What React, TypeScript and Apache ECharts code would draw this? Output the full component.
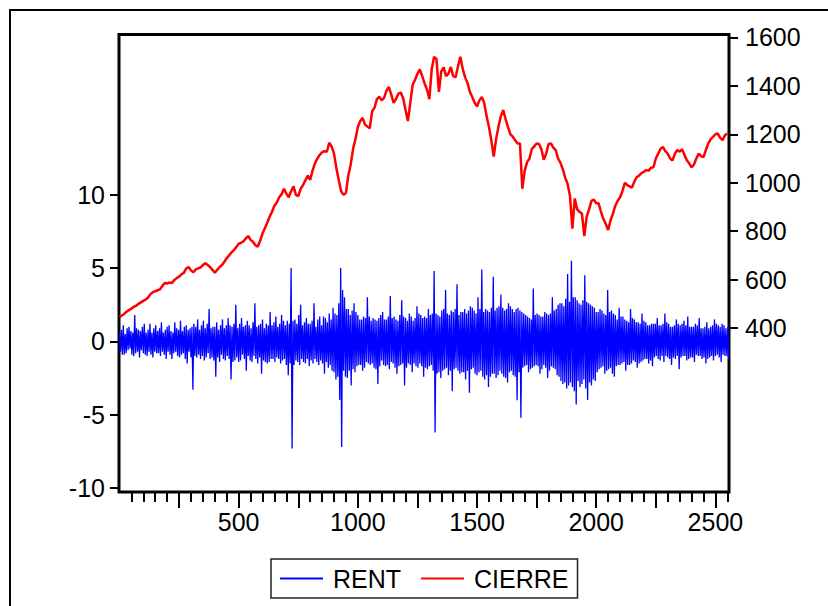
import React, { useEffect, useRef } from "react";
import * as echarts from "echarts";

// observation spacing of the sampled series
const RENT_STEP = 4;
const CIERRE_STEP = 10;

// RENT (left axis), one value every RENT_STEP observations starting at obs 0
const rentValues = [
  0.6, -0.7, 0.8, -0.9, 1.1, -0.9, 0.5, -0.8, 0.9, -0.6, 1.0, -0.5, 0.7, -0.9, 0.6, -1.0, 1.8, -0.8, 0.9, -0.7,
  0.8, -1.1, 0.7, -0.6, 1.0, -0.8, 1.2, -0.9, 0.6, -1.0, 0.8, -0.7, 1.2, -0.9, 0.6, -1.1, 0.9, -0.7, 1.1, -0.8,
  0.7, -0.8, 0.9, -1.0, 1.3, -0.7, 0.6, -0.9, 0.8, -1.2, 1.0, -0.7, 1.1, -0.9, 0.7, -1.2, 0.6, -0.8, 1.3, -0.7,
  0.9, -1.0, 0.8, -1.1, 1.4, -0.9, 0.7, -0.8, 1.0, -1.2, 1.1, -1.5, 0.8, -0.7, 0.9, -1.1, 1.0, -3.3, 1.2, -1.0,
  1.0, -1.1, 1.5, -0.9, 0.8, -1.2, 1.1, -1.0, 1.4, -1.3, 0.9, -1.1, 1.2, -0.8, 2.2, -1.2, 0.9, -1.1, 1.0, -1.3,
  1.0, -2.4, 1.3, -1.1, 0.8, -1.4, 1.1, -0.9, 1.5, -1.2, 0.9, -1.3, 1.1, -1.0, 1.6, -1.2, 1.1, -2.6, 1.0, -1.4,
  1.2, -1.3, 2.5, -1.1, 0.9, -1.4, 1.2, -1.3, 1.6, -0.9, 1.0, -1.2, 1.1, -2.0, 1.4, -1.0, 1.1, -1.3, 0.9, -1.4,
  1.3, -1.0, 2.6, -1.2, 1.0, -1.5, 1.1, -1.1, 1.2, -2.2, 1.5, -1.3, 0.9, -1.4, 1.2, -1.5, 1.1, -1.4, 2.0, -1.2,
  1.1, -1.2, 1.3, -1.4, 1.7, -1.1, 1.0, -1.2, 1.2, -1.5, 1.8, -1.3, 1.4, -1.2, 1.1, -1.6, 1.4, -2.3, 1.2, -1.5,
  5.0, -7.3, 1.4, -1.6, 1.5, -1.3, 1.2, -1.4, 1.8, -1.6, 2.5, -1.2, 1.1, -1.4, 1.3, -1.5, 1.6, -1.2, 1.2, -1.7,
  1.2, -1.3, 1.4, -1.5, 2.6, -1.2, 1.0, -1.4, 1.5, -1.6, 1.7, -1.3, 1.1, -1.5, 1.7, -2.2, 1.6, -1.4, 1.3, -1.8,
  1.9, -1.6, 1.5, -2.0, 2.3, -2.1, 1.9, -2.6, 1.8, -2.4, 2.6, -4.0, 5.0, -7.2, 3.5, -2.0, 3.0, -2.4, 2.2, -2.5,
  2.2, -2.0, 1.8, -3.0, 2.1, -1.9, 2.6, -2.1, 2.0, -1.7, 1.8, -1.6, 1.5, -1.6, 1.5, -2.0, 1.7, -1.8, 1.6, -1.4,
  3.0, -1.5, 1.7, -1.6, 1.4, -1.5, 1.6, -1.8, 1.5, -1.9, 1.4, -2.9, 1.6, -1.7, 1.8, -1.3, 2.0, -1.6, 1.5, -1.7,
  1.5, -1.6, 1.7, -1.9, 3.1, -1.4, 1.6, -1.5, 1.7, -1.8, 1.5, -2.2, 1.4, -1.7, 1.8, -1.6, 2.8, -1.5, 1.7, -3.0,
  1.6, -1.8, 1.4, -1.5, 1.9, -1.6, 1.7, -2.1, 1.4, -1.5, 1.6, -1.7, 2.4, -1.8, 1.9, -1.5, 1.8, -1.7, 1.6, -2.4,
  1.7, -1.8, 1.6, -1.9, 2.2, -1.7, 1.8, -1.6, 1.9, -2.0, 4.8, -6.2, 1.9, -2.2, 1.8, -2.1, 1.7, -2.5, 2.1, -2.0,
  2.2, -1.9, 3.5, -1.8, 1.9, -2.3, 1.8, -2.0, 2.1, -3.4, 2.0, -1.9, 2.2, -1.8, 3.9, -2.0, 1.8, -2.2, 2.0, -2.1,
  2.0, -2.1, 2.2, -2.6, 1.9, -2.0, 2.1, -3.5, 2.4, -1.9, 2.3, -1.8, 2.1, -2.2, 1.9, -2.3, 3.0, -2.1, 2.2, -2.0,
  4.9, -2.4, 2.0, -2.6, 2.2, -2.3, 2.1, -3.1, 2.0, -2.4, 2.3, -2.2, 4.4, -2.2, 2.1, -2.5, 2.3, -2.3, 2.4, -2.0,
  3.2, -2.2, 2.3, -2.4, 2.1, -2.5, 2.2, -2.8, 2.6, -2.1, 2.4, -2.0, 2.2, -2.3, 2.0, -2.4, 2.2, -4.0, 2.3, -2.1,
  2.1, -5.2, 2.0, -1.8, 1.9, -1.7, 1.8, -1.6, 1.7, -2.1, 1.6, -1.9, 1.5, -1.8, 3.6, -1.7, 1.8, -1.6, 1.9, -1.7,
  1.8, -2.2, 1.7, -1.9, 1.7, -1.6, 2.0, -1.8, 1.9, -2.5, 1.8, -2.0, 1.9, -1.7, 3.0, -1.8, 2.1, -1.9, 2.2, -2.3,
  2.5, -2.4, 2.6, -2.7, 2.6, -2.9, 2.4, -2.8, 2.9, -3.2, 4.6, -3.0, 2.7, -2.8, 5.5, -3.1, 3.0, -3.4, 3.0, -4.3,
  2.8, -2.7, 2.6, -3.1, 2.5, -2.9, 2.8, -2.6, 4.5, -3.2, 2.7, -4.0, 2.6, -2.8, 2.5, -3.0, 2.4, -2.6, 2.3, -2.7,
  2.0, -2.1, 2.0, -1.9, 2.2, -1.8, 2.1, -1.7, 1.9, -2.2, 1.8, -2.0, 3.5, -1.9, 2.0, -1.8, 2.1, -2.2, 1.9, -2.4,
  1.8, -1.7, 1.5, -1.6, 2.3, -1.6, 1.7, -1.5, 1.7, -1.4, 1.5, -2.0, 1.4, -1.6, 1.3, -1.6, 2.2, -1.5, 1.6, -1.3,
  1.5, -1.4, 1.3, -1.8, 1.3, -1.5, 1.2, -1.4, 1.9, -1.3, 1.4, -1.2, 1.3, -1.2, 1.1, -1.5, 1.1, -1.3, 1.2, -1.7,
  1.2, -1.1, 1.2, -1.0, 1.6, -1.2, 1.1, -1.3, 1.1, -1.0, 1.2, -1.4, 1.9, -1.0, 1.3, -1.1, 1.2, -1.2, 1.0, -1.6,
  1.0, -1.1, 1.1, -1.2, 1.5, -1.0, 1.2, -1.9, 1.1, -1.1, 1.2, -1.0, 1.4, -1.0, 1.1, -1.3, 1.7, -1.2, 1.0, -1.1,
  1.0, -1.1, 1.0, -1.4, 1.2, -0.9, 1.1, -1.0, 1.6, -1.0, 0.9, -1.2, 0.9, -1.1, 1.0, -1.5, 1.3, -1.2, 0.9, -1.1,
  1.0, -1.0, 1.1, -1.3, 1.5, -1.0, 1.2, -0.9, 1.1, -1.1, 1.0, -1.4, 1.2, -0.9, 1.1, -1.0, 0.9, -1.0, 1.0, -1.2,
];

// CIERRE (right axis), one value every CIERRE_STEP observations starting at obs 0
const cierreValues = [
  445, 452, 458, 468, 474, 480, 488, 492, 500, 506,
  512, 518, 526, 540, 548, 552, 556, 560, 574, 586,
  584, 588, 586, 598, 606, 612, 622, 628, 646, 652,
  638, 630, 642, 646, 650, 660, 668, 660, 652, 640,
  628, 640, 652, 660, 674, 688, 700, 712, 722, 734,
  748, 752, 758, 770, 780, 764, 756, 742, 736, 760,
  790, 812, 835, 860, 880, 905, 918, 940, 952, 975,
  955, 940, 965, 985, 950, 945, 975, 990, 1010, 1030,
  1012, 1050, 1080, 1100, 1115, 1125, 1130, 1128, 1165, 1150,
  1120, 1060, 1010, 965, 950, 958, 1030, 1075, 1140, 1180,
  1230, 1255, 1268, 1240, 1232, 1225, 1295, 1310, 1345, 1355,
  1340, 1350, 1380, 1395, 1365, 1330, 1345, 1368, 1372, 1350,
  1300, 1255, 1330, 1405, 1425, 1450, 1468, 1440, 1410, 1385,
  1345, 1470, 1520, 1510, 1375, 1460, 1476, 1440, 1450, 1478,
  1440, 1436, 1480, 1520, 1470, 1435, 1412, 1375, 1354, 1330,
  1315, 1340, 1354, 1330, 1275, 1230, 1175, 1108, 1180, 1232,
  1275, 1300, 1262, 1230, 1200, 1190, 1175, 1162, 1162, 975,
  1050, 1085, 1100, 1140, 1150, 1162, 1160, 1138, 1095, 1120,
  1160, 1162, 1145, 1135, 1100, 1082, 1055, 1020, 995, 945,
  810, 935, 890, 880, 872, 780, 860, 890, 925, 930,
  915, 915, 880, 850, 830, 805, 845, 872, 905, 925,
  940, 965, 1000, 990, 985, 980, 1005, 1023, 1030, 1040,
  1045, 1052, 1050, 1062, 1064, 1100, 1120, 1140, 1148, 1130,
  1120, 1100, 1092, 1120, 1135, 1128, 1138, 1115, 1093, 1080,
  1064, 1075, 1100, 1120, 1110, 1106, 1135, 1162, 1180, 1189,
  1200, 1203, 1185, 1176, 1196, 1203,
];

const xLabelValues = [500, 1000, 1500, 2000, 2500];
const xMajorTicks = [250, 500, 750, 1000, 1250, 1500, 1750, 2000, 2250, 2500];
const xMinorTicks = Array.from({ length: 51 }, (_, i) => 50 * (i + 1));
const leftTicks = [-10, -5, 0, 5, 10];
const rightTicks = [400, 600, 800, 1000, 1200, 1400, 1600];

const FONT = "'Liberation Sans', Arial, sans-serif";

export default function App() {
  const ref = useRef<HTMLDivElement>(null);

  useEffect(() => {
    if (!ref.current) return;
    const chart = echarts.init(ref.current, undefined, { renderer: "svg" });

    const rentData = rentValues.map((v, i) => [i * RENT_STEP, v]);
    const cierreData = cierreValues.map((v, i) => [i * CIERRE_STEP, v]);

    const tickStyle = { color: "#000", width: 2 };
    const labelStyle = {
      color: "#000",
      fontSize: 25,
      fontFamily: FONT,
      formatter: (v: number) => String(v),
    };
    const noLine = { show: false, onZero: false };

    chart.setOption({
      animation: false,
      backgroundColor: "#ffffff",
      graphic: [
        {
          type: "rect",
          silent: true,
          shape: { x: 10, y: 10, width: 840, height: 620 },
          style: { fill: "none", stroke: "#000", lineWidth: 2 },
        },
      ],
      grid: {
        left: 119,
        top: 34.5,
        width: 610,
        height: 457.5,
        show: true,
        borderColor: "#000",
        borderWidth: 3,
        backgroundColor: "transparent",
        containLabel: false,
        outerBoundsMode: "none",
      },
      legend: {
        left: 271,
        top: 559,
        orient: "horizontal",
        selectedMode: false,
        borderColor: "#222",
        borderWidth: 1.5,
        padding: [7, 9, 7, 9],
        itemWidth: 43,
        itemHeight: 2,
        itemGap: 20,
        icon: "rect",
        textStyle: { color: "#000", fontSize: 25, fontFamily: FONT, lineHeight: 25, padding: [0, 0, 0, 5] },
        data: [
          { name: "RENT", icon: "rect", itemStyle: { color: "#0000ff" } },
          { name: "CIERRE", icon: "rect", itemStyle: { color: "#ff0000" } },
        ],
      },
      xAxis: [
        {
          type: "value",
          min: -2,
          max: 2557,
          position: "bottom",
          axisLine: noLine,
          splitLine: { show: false },
          axisTick: { show: true, customValues: xMajorTicks, length: 16, lineStyle: tickStyle },
          axisLabel: { customValues: xLabelValues, margin: 17, ...labelStyle },
        },
        {
          type: "value",
          min: -2,
          max: 2557,
          position: "bottom",
          axisLine: noLine,
          splitLine: { show: false },
          axisTick: { show: true, customValues: xMinorTicks, length: 10, lineStyle: tickStyle },
          axisLabel: { show: false },
        },
      ],
      yAxis: [
        {
          type: "value",
          position: "left",
          min: -10.26,
          max: 20.91,
          axisLine: noLine,
          splitLine: { show: false },
          axisTick: { show: true, customValues: leftTicks, length: 9, lineStyle: tickStyle },
          axisLabel: { customValues: leftTicks, margin: 14, ...labelStyle },
        },
        {
          type: "value",
          position: "right",
          min: -277,
          max: 1612,
          axisLine: noLine,
          splitLine: { show: false },
          axisTick: { show: true, customValues: rightTicks, length: 9, lineStyle: tickStyle },
          axisLabel: { customValues: rightTicks, margin: 16, ...labelStyle },
        },
      ],
      series: [
        {
          name: "RENT",
          type: "line",
          xAxisIndex: 0,
          yAxisIndex: 0,
          data: rentData,
          symbol: "none",
          lineStyle: { color: "#0000ff", width: 1.3 },
          itemStyle: { color: "#0000ff" },
        },
        {
          name: "CIERRE",
          type: "line",
          xAxisIndex: 0,
          yAxisIndex: 1,
          data: cierreData,
          symbol: "none",
          lineStyle: { color: "#ff0000", width: 2.5 },
          itemStyle: { color: "#ff0000" },
        },
      ],
    });

    return () => chart.dispose();
  }, []);

  return (
    <div
      ref={ref}
      style={{ position: "fixed", left: 0, top: 0, width: 828, height: 606, background: "#fff" }}
    />
  );
}
